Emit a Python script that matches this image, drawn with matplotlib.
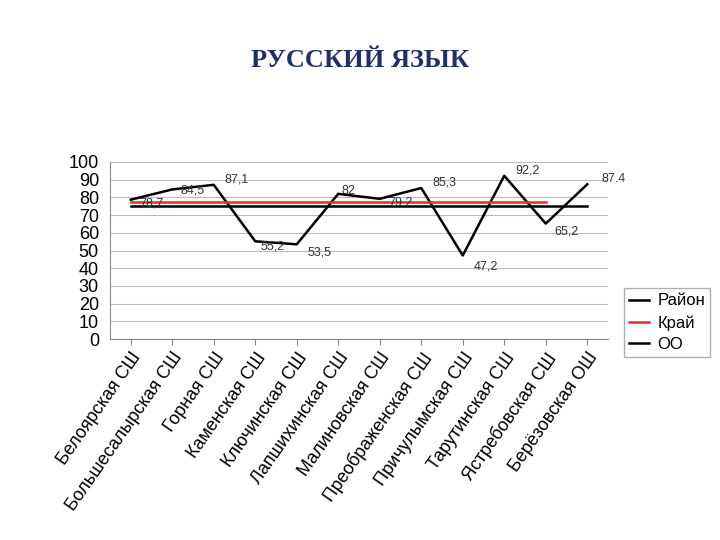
import numpy as np
import matplotlib.pyplot as plt

schools = ["Белоярская СШ", "Большесалырская СШ", "Горная СШ", "Каменская СШ",
           "Ключинская СШ", "Лапшихинская СШ", "Малиновская СШ", "Преображенская СШ",
           "Причулымская СШ", "Тарутинская СШ", "Ястребовская СШ", "Берёзовская ОШ"]
raion = [78.7, 84.5, 87.1, 55.2, 53.5, 82, 79.2, 85.3, 47.2, 92.2, 65.2, 87.4]
labels = ["78,7", "84,5", "87,1", "55,2", "53,5", "82", "79,2", "85,3", "47,2", "92,2", "65,2", "87.4"]
krai = [77.5] * 11
oo = [75] * 12

fig = plt.figure(figsize=(7.2, 5.4), dpi=100)
fig.text(0.5, 0.888, "РУССКИЙ ЯЗЫК", ha="center", va="center", fontsize=19,
         fontweight="bold", family="Liberation Serif", color="#1f2f6e")
ax = fig.add_axes([110 / 720, 1 - 339 / 540, 498 / 720, 177 / 540])
x = np.arange(len(schools))
ax.plot(x, raion, color="black", lw=1.8, label="Район")
ax.plot(x[:11], krai, color="#e03030", lw=1.8, label="Край")
ax.plot(x, oo, color="black", lw=1.8, label="ОО")
offs = [(6, -3), (6, -1), (8, 4), (4, -4), (8, -6), (2, 2), (6, -3), (8, 4),
        (8, -8), (8, 4), (6, -6), (10, 4)]
for xi, v, t, o in zip(x, raion, labels, offs):
    ax.annotate(t, (xi, v), xytext=o, textcoords="offset points", fontsize=9,
                color="#333333", family="Liberation Sans", va="center")
ax.set_xlim(-0.5, 11.5)
ax.set_ylim(0, 100)
ax.set_yticks(range(0, 101, 10))
ax.yaxis.grid(True, color="#bbbbbb", lw=0.8)
ax.set_axisbelow(True)
for s in ["top", "right"]:
    ax.spines[s].set_visible(False)
ax.spines["left"].set_color("#888888")
ax.spines["bottom"].set_color("#888888")
ax.tick_params(axis="y", length=0, labelsize=13, pad=8)
ax.tick_params(axis="x", length=4, color="#888888")
ax.set_xticks(x)
ax.set_xticklabels(schools, rotation=55, ha="right", rotation_mode="anchor",
                   fontsize=13, family="Liberation Sans")
for lab in ax.get_yticklabels():
    lab.set_family("Liberation Sans")
ax.legend(loc="lower left", bbox_to_anchor=(1.015, -0.15),
          frameon=True, fancybox=False, edgecolor="#999999",
          prop={"family": "Liberation Sans", "size": 12}, handlelength=1.2,
          borderpad=0.3, labelspacing=0.4, handletextpad=0.5)
fig.savefig("out.png", dpi=100)
